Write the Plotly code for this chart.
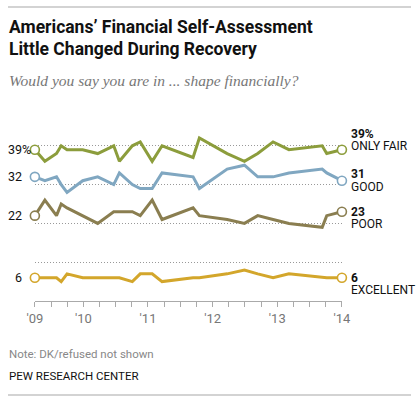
import plotly.graph_objects as go

# survey positions on the quarterly axis (0 = '09 tick, 19 = '14 tick)
x_pos = [0, 0.62, 1.34, 1.63, 1.99, 2.96, 3.89, 4.88, 5.23, 6.03, 6.52, 7.26, 7.87,
         9.79, 10.18, 11.90, 12.97, 13.79, 14.74, 15.72, 17.78, 18.06, 19]

only_fair = [39, 36, 38, 40, 39, 39, 38, 40, 36, 40, 41, 36, 40,
             37, 42, 38, 36, 38, 41, 39, 40, 38, 39]
good = [32, 31, 32, 30, 28, 31, 32, 30, 33, 30, 29, 29, 33,
        32, 29, 34, 35, 32, 32, 33, 34, 33, 31]
poor = [22, 26, 22, 25, 24, 22, 20, 23, 23, 23, 22, 26, 21,
        24, 22, 21, 20, 22, 21, 20, 19, 22, 23]
excellent = [6, 6, 6, 5, 7, 6, 6, 6, 6, 5, 7, 7, 5,
             6, 6, 7, 8, 7, 6, 7, 6, 6, 6]

tick_vals = list(range(20))
tick_text = ["'09", "", "", "'10", "", "", "", "'11", "", "", "", "'12", "", "", "",
             "'13", "", "", "", "'14"]

series = [
    ("ONLY FAIR", only_fair, "#8c9d3c", "%"),
    ("GOOD", good, "#80a7c1", ""),
    ("POOR", poor, "#8a7e50", ""),
    ("EXCELLENT", excellent, "#d3a62b", ""),
]

W_FIG, H_FIG = 420, 398
L, T, PW, PH = 28, 107, 320, 194


def xp(px):
    return px / W_FIG


def yp(py):
    return 1 - py / H_FIG


fig = go.Figure()
for name, vals, color, suf in series:
    fig.add_trace(go.Scatter(
        x=x_pos, y=vals, mode="lines", line=dict(color=color, width=3),
        hoverinfo="skip", showlegend=False, cliponaxis=False))
    fig.add_trace(go.Scatter(
        x=[x_pos[0], x_pos[-1]], y=[vals[0], vals[-1]], mode="markers",
        marker=dict(size=9, color="white", line=dict(color=color, width=1.6)),
        hoverinfo="skip", showlegend=False, cliponaxis=False))

# label offsets (pixels): value label, name label
offsets = {"ONLY FAIR": (16, 4), "GOOD": (7, -6), "POOR": (0, -12), "EXCELLENT": (0, -12)}
ann = []
for name, vals, color, suf in series:
    vo, no = offsets[name]
    ann.append(dict(x=x_pos[-1], y=vals[-1], xref="x", yref="y", xanchor="left",
                    yanchor="middle", xshift=7, yshift=vo, showarrow=False,
                    text="<b>%d%s</b>" % (vals[-1], suf),
                    font=dict(family="Roboto", size=12, color="#111")))
    ann.append(dict(x=x_pos[-1], y=vals[-1], xref="x", yref="y", xanchor="left",
                    yanchor="middle", xshift=7, yshift=no, showarrow=False,
                    text=name, font=dict(family="Roboto", size=12, color="#111")))
    if suf:
        ann.append(dict(x=xp(-1), y=vals[0], xref="paper", yref="y", xanchor="left",
                        yanchor="middle", showarrow=False, borderpad=0,
                        text="%d%s" % (vals[0], suf),
                        font=dict(family="Roboto", size=12.5, color="#111")))
    else:
        ann.append(dict(x=x_pos[0], y=vals[0], xref="x", yref="y", xanchor="right",
                        yanchor="middle", xshift=-12, showarrow=False, borderpad=0,
                        text="%d" % vals[0],
                        font=dict(family="Roboto", size=12.5, color="#111")))

for line_text, cy in (("Americans’ Financial Self-Assessment", 27.5),
                      ("Little Changed During Recovery", 49)):
    ann.append(dict(x=xp(-1), y=yp(cy), xref="paper", yref="paper", xanchor="left",
                    yanchor="middle", showarrow=False, align="left",
                    text="<b>%s</b>" % line_text,
                    font=dict(family="Roboto", size=17.5, color="#111")))
ann.append(dict(x=xp(-1), y=yp(80), xref="paper", yref="paper", xanchor="left", yanchor="middle",
                showarrow=False, align="left",
                text="<i>Would you say you are in ... shape financially?</i>",
                font=dict(family="Liberation Serif", size=15.5, color="#777")))
ann.append(dict(x=xp(-1), y=yp(354), xref="paper", yref="paper", xanchor="left", yanchor="middle",
                showarrow=False, align="left", text="Note: DK/refused not shown",
                font=dict(family="Roboto", size=11.5, color="#888")))
ann.append(dict(x=xp(-1), y=yp(376), xref="paper", yref="paper", xanchor="left", yanchor="middle",
                showarrow=False, align="left", text="PEW RESEARCH CENTER",
                font=dict(family="Roboto", size=11.5, color="#111")))

shapes = [
    dict(type="line", xref="paper", yref="paper", x0=0, x1=1, y0=yp(7), y1=yp(7),
         line=dict(color="#c4c4c4", width=1.5)),
    dict(type="line", xref="paper", yref="paper", x0=0, x1=1, y0=yp(395), y1=yp(395),
         line=dict(color="#c4c4c4", width=1.5)),
]

fig.update_layout(
    width=W_FIG, height=H_FIG,
    margin=dict(l=0, r=0, t=0, b=0, pad=0),
    paper_bgcolor="white", plot_bgcolor="white",
    annotations=ann, shapes=shapes,
    xaxis=dict(domain=[L / W_FIG, (L + PW) / W_FIG],
               range=[0, 19], tickvals=tick_vals, ticktext=tick_text,
               showgrid=False, zeroline=False, showline=True, linecolor="#aaa", linewidth=1,
               ticks="outside", ticklen=5, tickcolor="#aaa", tickwidth=1,
               tickfont=dict(family="Roboto", size=13, color="#777"), fixedrange=True),
    yaxis=dict(domain=[1 - (T + PH) / H_FIG, 1 - T / H_FIG],
               range=[0, 50], tickvals=[10, 20, 30, 40, 50], showticklabels=False,
               showgrid=True, gridcolor="#999", gridwidth=1, griddash="1px,2px",
               zeroline=False, showline=False, ticks="", fixedrange=True),
)

fig.write_html("out.html", config={"displayModeBar": False},
               post_script="document.body.style.margin='0';document.body.style.overflow='hidden';")
